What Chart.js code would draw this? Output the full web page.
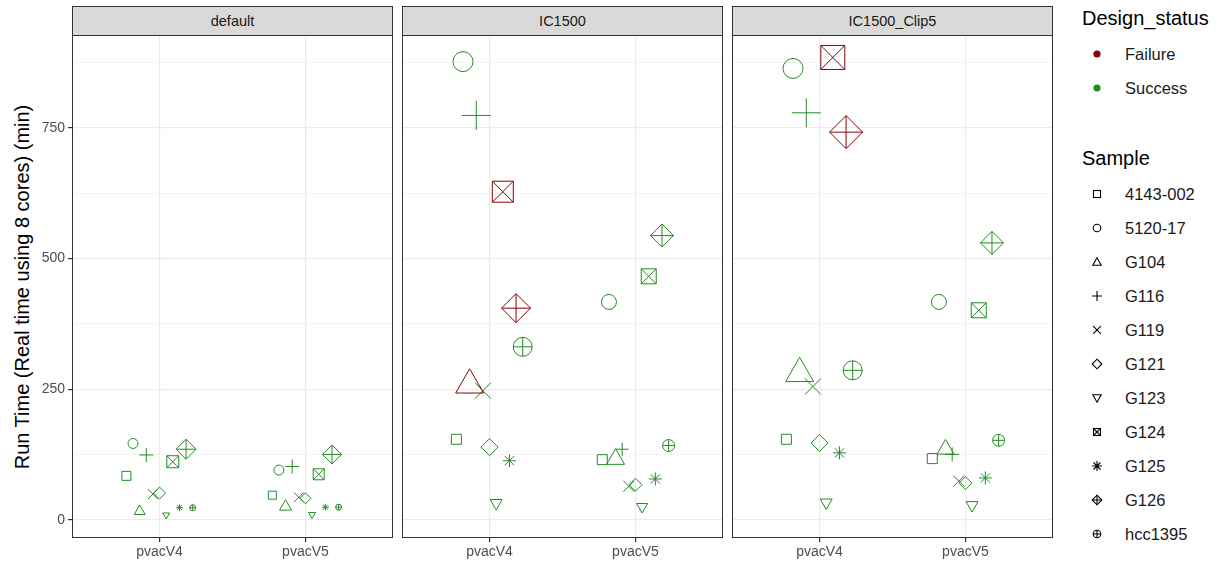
<!DOCTYPE html>
<html>
<head>
<meta charset="utf-8">
<script src="https://cdn.jsdelivr.net/npm/chart.js@4/dist/chart.umd.min.js"></script>
<style>
  body { margin: 0; background: #fff; font-family: "Liberation Sans", Arial, sans-serif; }
  #wrap { position: relative; width: 1224px; height: 562px; overflow: hidden; }
  .panel { position: absolute; top: 0; height: 562px; }
  .strip {
    position: absolute; top: 6px; height: 30px; box-sizing: border-box;
    background: #d9d9d9; border: 1px solid #333; color: #1a1a1a;
    font-size: 14.5px; text-align: center; line-height: 28px;
  }
  #ytitle {
    position: absolute; left: 22px; top: 287px; transform: translate(-50%, -50%) rotate(-90deg);
    white-space: nowrap; font-size: 20px; color: #000;
  }
  .legend { position: absolute; left: 1082px; color: #000; white-space: nowrap; }
  .legend .title { font-size: 20px; height: 30px; }
  .legend .item { position: relative; height: 34px; font-size: 16.5px; width: 140px; }
  .legend .item svg { position: absolute; left: 9px; top: 50%; transform: translateY(-50%); }
  .legend .item span { position: absolute; left: 43px; top: 50%; transform: translateY(-50%); color: #1a1a1a; }
</style>
</head>
<body>
<div id="wrap">
  <div id="ytitle">Run Time (Real time using 8 cores) (min)</div>
  <div id="legend-status" class="legend" style="top:7px"></div>
  <div id="legend-sample" class="legend" style="top:147px"></div>
</div>
<script>
// Run time per sample, pvacV4 vs pvacV5, faceted by binding setting.
const facets = ["default", "IC1500", "IC1500_Clip5"];
const versions = ["pvacV4", "pvacV5"];
const samples = ["4143-002", "5120-17", "G104", "G116", "G119", "G121", "G123", "G124", "G125", "G126", "hcc1395"];
const statuses = ["Failure", "Success"];

// minutes, one entry per sample (same order as `samples`)
const defaultV4 = [84, 146, 16, 124, 49, 51, 9, 111, 23, 135, 23];
const defaultV5 = [47, 95, 25, 102, 43, 41, 10, 87, 24, 125, 24];
const ic1500V4 = [154, 877, 258, 774, 247, 139, 32, 628, 113, 405, 331];
const ic1500V5 = [115, 417, 116, 135, 64, 67, 25, 466, 78, 544, 142];
const clip5V4 = [154, 864, 280, 779, 255, 147, 33, 885, 128, 742, 286];
const clip5V5 = [117, 417, 135, 125, 74, 70, 28, 401, 80, 530, 152];

// design status per sample
const S = "Success", F = "Failure";
const defaultV4Status = [S, S, S, S, S, S, S, S, S, S, S];
const defaultV5Status = [S, S, S, S, S, S, S, S, S, S, S];
const ic1500V4Status = [S, S, F, S, S, S, S, F, S, F, S];
const ic1500V5Status = [S, S, S, S, S, S, S, S, S, S, S];
const clip5V4Status = [S, S, S, S, S, S, S, F, S, F, S];
const clip5V5Status = [S, S, S, S, S, S, S, S, S, S, S];

// marker size (half-width in px)
const defaultV4Size = [4.5, 5, 5.5, 7, 5, 6, 3.5, 6, 3.5, 10, 3];
const defaultV5Size = [4, 5, 6, 7, 5, 5.5, 3.5, 5.5, 3.5, 9.5, 3];
const ic1500V4Size = [5, 10, 14, 14.5, 8, 8.5, 6, 10.5, 6.5, 14.5, 9.5];
const ic1500V5Size = [5, 7.5, 9, 6.5, 5.5, 6.5, 5.5, 7.5, 6.5, 11.5, 6];
const clip5V4Size = [5, 10, 14, 14.5, 8, 8.5, 6, 12, 6.5, 16.5, 9.5];
const clip5V5Size = [5, 7.5, 8.5, 7, 5.5, 6.5, 6, 7.5, 6.5, 11.5, 6];

const yTicks = [0, 125, 250, 375, 500, 625, 750, 875];

const STATUS_COLOR = { Failure: "#8b0000", Success: "#228b22" };

// ggplot-ish shapes built from Chart.js point styles; a second layer makes the composites.
// k converts half-width to the Chart.js radius for that style.
const SHAPES = [
  [{ style: "rect", k: Math.SQRT2 }],
  [{ style: "circle", k: 1 }],
  [{ style: "triangle", k: 1 / 0.866 }],
  [{ style: "cross", k: 1 }],
  [{ style: "crossRot", k: Math.SQRT2 }],
  [{ style: "rectRot", k: 1 }],
  [{ style: "triangle", k: 1 / 0.866, rot: 180 }],
  [{ style: "rect", k: Math.SQRT2 }, { style: "crossRot", k: Math.SQRT2 }],
  [{ style: "star", k: 1 }],
  [{ style: "rectRot", k: 1 }, { style: "cross", k: 1 }],
  [{ style: "circle", k: 1 }, { style: "cross", k: 1 }],
];

const DODGE = 0.5 / samples.length;

const panelBorder = {
  id: "panelBorder",
  afterDraw(chart) {
    const { ctx, chartArea: a } = chart;
    ctx.save();
    ctx.strokeStyle = "#333";
    ctx.lineWidth = 1;
    ctx.strokeRect(a.left + 0.5, a.top + 0.5, a.right - a.left - 1, a.bottom - a.top - 1);
    ctx.restore();
  },
};

function buildDatasets(v4, v5, st4, st5, sz4, sz5) {
  const out = [];
  samples.forEach((name, i) => {
    const off = (i - (samples.length - 1) / 2) * DODGE;
    SHAPES[i].forEach((layer) => {
      out.push({
        label: name,
        data: [{ x: 1 + off, y: v4[i] }, { x: 2 + off, y: v5[i] }],
        pointStyle: layer.style,
        rotation: layer.rot || 0,
        pointRadius: [sz4[i] * layer.k, sz5[i] * layer.k],
        pointHoverRadius: [sz4[i] * layer.k, sz5[i] * layer.k],
        pointBorderColor: [STATUS_COLOR[st4[i]], STATUS_COLOR[st5[i]]],
        pointBackgroundColor: "rgba(0,0,0,0)",
        pointBorderWidth: 1,
        showLine: false,
        clip: false,
      });
    });
  });
  return out;
}

function makePanel(idx, v4, v5, st4, st5, sz4, sz5) {
  const panelLeft = 72 + idx * 330;
  const first = idx === 0;
  const canvasLeft = first ? 0 : panelLeft;
  const width = first ? 393 : 321;

  const box = document.createElement("div");
  box.className = "panel";
  box.style.left = canvasLeft + "px";
  box.style.width = width + "px";
  const cv = document.createElement("canvas");
  box.appendChild(cv);
  document.getElementById("wrap").appendChild(box);

  const strip = document.createElement("div");
  strip.className = "strip";
  strip.style.left = panelLeft + "px";
  strip.style.width = "321px";
  strip.textContent = facets[idx];
  document.getElementById("wrap").appendChild(strip);

  new Chart(cv, {
    type: "scatter",
    data: { datasets: buildDatasets(v4, v5, st4, st5, sz4, sz5) },
    options: {
      responsive: true,
      maintainAspectRatio: false,
      animation: false,
      layout: { autoPadding: false, padding: { left: 0, right: 0, top: 35, bottom: 0 } },
      plugins: { legend: { display: false }, tooltip: { enabled: false } },
      events: [],
      scales: {
        x: {
          type: "linear",
          min: 0.4,
          max: 2.6,
          afterBuildTicks: (s) => { s.ticks = versions.map((_, j) => ({ value: j + 1 })); },
          afterFit: (s) => { s.height = 24; },
          ticks: {
            callback: (v) => versions[Math.round(v) - 1],
            color: "#4d4d4d",
            font: { family: "Liberation Sans", size: 14 },
            padding: 2,
            maxRotation: 0,
          },
          grid: { color: "#ebebeb", lineWidth: 1.2, tickColor: "#333", tickLength: 4 },
          border: { display: false },
        },
        y: {
          min: -35,
          max: 928,
          afterBuildTicks: (s) => { s.ticks = yTicks.map((v) => ({ value: v })); },
          afterFit: (s) => { s.width = first ? 72 : 0; },
          ticks: {
            display: first,
            callback: (v) => (v % 250 === 0 ? String(v) : ""),
            color: "#4d4d4d",
            font: { family: "Liberation Sans", size: 14 },
            padding: 3,
          },
          grid: {
            color: "#ebebeb",
            lineWidth: (c) => (c.tick && c.tick.value % 250 === 0 ? 1.2 : 0.6),
            drawTicks: first,
            tickColor: (c) => (c.tick && c.tick.value % 250 === 0 ? "#333" : "rgba(0,0,0,0)"),
            tickLength: 4,
          },
          border: { display: false },
        },
      },
    },
    plugins: [panelBorder],
  });
}

makePanel(0, defaultV4, defaultV5, defaultV4Status, defaultV5Status, defaultV4Size, defaultV5Size);
makePanel(1, ic1500V4, ic1500V5, ic1500V4Status, ic1500V5Status, ic1500V4Size, ic1500V5Size);
makePanel(2, clip5V4, clip5V5, clip5V4Status, clip5V5Status, clip5V4Size, clip5V5Size);

// legend: colour guide then shape guide
const ICONS = [
  '<rect x="2.5" y="2.5" width="7" height="7"/>',
  '<circle cx="6" cy="6" r="3.8"/>',
  '<polygon points="6,1.8 10.2,9.2 1.8,9.2"/>',
  '<path d="M1 6H11M6 1V11"/>',
  '<path d="M2.2 2.2L9.8 9.8M9.8 2.2L2.2 9.8"/>',
  '<polygon points="6,1.2 10.8,6 6,10.8 1.2,6"/>',
  '<polygon points="6,10.2 10.2,2.8 1.8,2.8"/>',
  '<rect x="2.5" y="2.5" width="7" height="7"/><path d="M2.5 2.5L9.5 9.5M9.5 2.5L2.5 9.5"/>',
  '<path d="M1 6H11M6 1V11M2.5 2.5L9.5 9.5M9.5 2.5L2.5 9.5"/>',
  '<polygon points="6,1.2 10.8,6 6,10.8 1.2,6"/><path d="M1.2 6H10.8M6 1.2V10.8"/>',
  '<circle cx="6" cy="6" r="3.8"/><path d="M2.2 6H9.8M6 2.2V9.8"/>',
];

const ls = document.getElementById("legend-status");
ls.innerHTML = `<div class="title">Design_status</div>` + statuses.map((s) =>
  `<div class="item"><svg width="12" height="12"><circle cx="6" cy="6" r="3.6" fill="${STATUS_COLOR[s]}"/></svg><span>${s}</span></div>`
).join("");

const lsm = document.getElementById("legend-sample");
lsm.innerHTML = `<div class="title">Sample</div>` + samples.map((s, i) =>
  `<div class="item"><svg width="12" height="12" fill="none" stroke="#000" stroke-width="1.1">${ICONS[i]}</svg><span>${s}</span></div>`
).join("");
</script>
</body>
</html>
